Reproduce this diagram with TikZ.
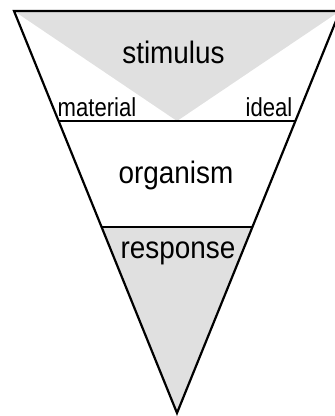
\documentclass[tikz,border=0pt]{standalone}
\usepackage{fontspec}
\setmainfont{Liberation Sans}
\usetikzlibrary{calc}
\definecolor{lightfill}{RGB}{224,224,224}
\newcommand\bigword[1]{\scalebox{0.9}[1]{\fontsize{31}{33}\selectfont #1}}
\newcommand\smallword[1]{\scalebox{0.85}[1]{\fontsize{26}{28}\selectfont #1}}
\begin{document}
\begin{tikzpicture}[x=1pt,y=-1pt,
  edge/.style={line width=2.2pt,line join=miter},
  label/.style={inner sep=0pt}]
\useasboundingbox (0,0) rectangle (335,416);
\clip (0,0) rectangle (335,416);
\coordinate (TL) at (14,11);
\coordinate (TR) at (340,11);
\coordinate (A) at (177,413);
\coordinate (ML) at ($(TL)!0.2736!(A)$);
\coordinate (MR) at ($(TR)!0.2736!(A)$);
\coordinate (LL) at ($(TL)!0.5373!(A)$);
\coordinate (LR) at ($(TR)!0.5373!(A)$);
\coordinate (MC) at (177,121);
% shaded regions
\fill[lightfill] (TL) -- (TR) -- (MC) -- cycle;
\fill[lightfill] (LL) -- (LR) -- (A) -- cycle;
% outline and dividers
\draw[edge] (TL) -- (TR) -- (A) -- cycle;
\draw[edge] (ML) -- (MR);
\draw[edge] (LL) -- (LR);
% labels
\node[label,anchor=base] (stim) at (173.5,63.3) {\bigword{stimulus}};
\node[label,anchor=base west] (mat) at (57.5,116) {\smallword{material}};
\node[label,anchor=base east] (idl) at (292.5,116) {\smallword{ideal}};
\node[label,anchor=base] (org) at (176,183) {\bigword{organism}};
\node[label,anchor=base] (resp) at (178,258) {\bigword{response}};
\end{tikzpicture}
\end{document}
